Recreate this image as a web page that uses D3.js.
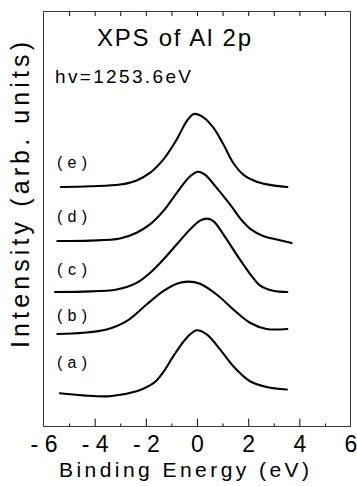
<!DOCTYPE html>
<html>
<head>
<meta charset="utf-8">
<script src="https://cdn.jsdelivr.net/npm/d3@7/dist/d3.min.js"></script>
<style>
  html, body { margin: 0; padding: 0; background: #fff; }
  svg { display: block; }
  text { font-family: "Liberation Sans", Arial, Helvetica, sans-serif; fill: #000; }
</style>
</head>
<body>
<svg id="chart" width="357" height="486"></svg>
<script>
// Al 2p core-level spectra, binding energy relative to the peak (eV) vs. intensity (a.u., stacked)
const seriesNames = ["(a)", "(b)", "(c)", "(d)", "(e)"];

const energyA = [-5.36, -4.45, -3.40, -2.36, -1.84, -1.58, -1.25, -0.93, -0.40, -0.01, 0.38, 0.90, 1.42, 2.07, 2.72, 3.51];
const intensityA = [0.80, 0.75, 0.73, 0.85, 0.99, 1.11, 1.37, 1.69, 2.14, 2.32, 2.22, 1.86, 1.45, 1.09, 0.95, 0.89];

const energyB = [-5.46, -4.45, -3.53, -2.75, -1.97, -1.32, -0.79, -0.34, 0.12, 0.77, 1.42, 2.07, 2.72, 3.53];
const intensityB = [2.23, 2.26, 2.34, 2.54, 2.94, 3.26, 3.44, 3.49, 3.44, 3.18, 2.82, 2.50, 2.35, 2.35];

const energyC = [-5.55, -4.45, -3.14, -2.36, -1.84, -1.32, -0.79, -0.27, 0.12, 0.38, 0.64, 1.03, 1.55, 2.07, 2.46, 2.98, 3.53];
const intensityC = [3.24, 3.25, 3.30, 3.46, 3.70, 4.02, 4.39, 4.75, 4.96, 5.01, 4.95, 4.63, 4.14, 3.68, 3.40, 3.27, 3.24];

const energyD = [-5.46, -4.18, -3.01, -2.36, -1.84, -1.32, -0.79, -0.27, 0.05, 0.31, 0.77, 1.29, 1.75, 2.07, 2.59, 3.24, 3.70];
const intensityD = [4.47, 4.48, 4.53, 4.67, 4.87, 5.19, 5.63, 6.03, 6.14, 6.07, 5.75, 5.35, 4.97, 4.77, 4.59, 4.49, 4.42];

const energyE = [-5.32, -4.18, -3.01, -2.36, -1.84, -1.32, -0.79, -0.40, -0.12, 0.25, 0.64, 1.03, 1.42, 1.81, 2.33, 2.98, 3.53];
const intensityE = [5.77, 5.79, 5.83, 5.93, 6.11, 6.43, 6.92, 7.36, 7.53, 7.45, 7.20, 6.80, 6.35, 6.07, 5.90, 5.81, 5.77];

// label anchor (energy, intensity) for each spectrum tag
const labelEnergy = -5.47;
const labelIntensity = [1.41, 2.54, 3.65, 4.92, 6.23];

const majorTicks = [-6, -4, -2, 0, 2, 4, 6];
const innerMajorTicks = [-4, -2, 0, 2, 4];
const minorTicks = [-5, -3, -1, 1, 3, 5];
const topTicks = [-5, -4, -3, -2, -1, 0, 1, 2, 3, 4, 5];

const titleText = "XPS of Al 2p";
const photonText = "hv=1253.6eV";
const xTitle = "Binding Energy (eV)";
const yTitle = "Intensity (arb. units)";

const energies = [energyA, energyB, energyC, energyD, energyE];
const intensities = [intensityA, intensityB, intensityC, intensityD, intensityE];
const spectra = seriesNames.map((name, i) => ({
  name,
  points: energies[i].map((e, j) => [e, intensities[i][j]])
}));

const svg = d3.select("#chart");
const plot = { left: 43.5, right: 350.5, top: 11.5, bottom: 426.5 };

const x = d3.scaleLinear().domain([-6, 6]).range([plot.left, plot.right]);
const y = d3.scaleLinear().domain([0, 10]).range([plot.bottom, plot.top]);

// frame
svg.append("rect")
  .attr("x", plot.left).attr("y", plot.top)
  .attr("width", plot.right - plot.left).attr("height", plot.bottom - plot.top)
  .attr("fill", "none").attr("stroke", "#3a3a3a").attr("stroke-width", 1);

// inward ticks
function tickAxis(gen, ty) {
  const g = svg.append("g").attr("transform", `translate(0,${ty})`).call(gen);
  g.select(".domain").remove();
  g.selectAll("text").remove();
  g.selectAll("line").attr("stroke", "#222").attr("stroke-width", 1.1);
  return g;
}
tickAxis(d3.axisTop(x).tickValues(innerMajorTicks).tickSize(8), plot.bottom);
tickAxis(d3.axisTop(x).tickValues(minorTicks).tickSize(3), plot.bottom);
tickAxis(d3.axisBottom(x).tickValues(topTicks).tickSize(4.5), plot.top);

// tick labels
const fmt = d => d < 0 ? "- " + Math.abs(d) : String(d);
const labels = svg.append("g").attr("transform", `translate(0,${plot.bottom})`)
  .call(d3.axisBottom(x).tickValues(majorTicks).tickSize(0).tickPadding(0).tickFormat(fmt));
labels.select(".domain").remove();
labels.selectAll("text")
  .attr("y", 25.5).attr("dy", null)
  .style("font-size", "23px")
  .style("font-family", "'Liberation Sans', Arial, sans-serif")
  .attr("fill", "#000");

// spectra
const line = d3.line()
  .x(d => x(d[0]))
  .y(d => y(d[1]))
  .curve(d3.curveCatmullRom.alpha(0.5));

svg.append("g").selectAll("path")
  .data(spectra)
  .join("path")
  .attr("d", d => line(d.points))
  .attr("fill", "none")
  .attr("stroke", "#000")
  .attr("stroke-width", 2.1)
  .attr("stroke-linecap", "round")
  .attr("stroke-linejoin", "round");

// spectrum tags
svg.append("g").selectAll("text")
  .data(spectra)
  .join("text")
  .attr("x", x(labelEnergy))
  .attr("y", (d, i) => y(labelIntensity[i]))
  .attr("textLength", 30)
  .attr("lengthAdjust", "spacing")
  .style("font-size", "16px")
  .text(d => d.name);

// title and photon energy
svg.append("text")
  .attr("x", 97).attr("y", 46)
  .attr("textLength", 154).attr("lengthAdjust", "spacing")
  .style("font-size", "24px")
  .text(titleText);

svg.append("text")
  .attr("x", 55).attr("y", 83)
  .attr("textLength", 136).attr("lengthAdjust", "spacing")
  .style("font-size", "19px")
  .text(photonText);

// axis titles
svg.append("text")
  .attr("x", 59).attr("y", 477)
  .attr("textLength", 250).attr("lengthAdjust", "spacing")
  .style("font-size", "21px")
  .text(xTitle);

svg.append("text")
  .attr("transform", "translate(29,348) rotate(-90)")
  .attr("x", 0).attr("y", 0)
  .attr("textLength", 306).attr("lengthAdjust", "spacing")
  .style("font-size", "25px")
  .text(yTitle);
</script>
</body>
</html>
